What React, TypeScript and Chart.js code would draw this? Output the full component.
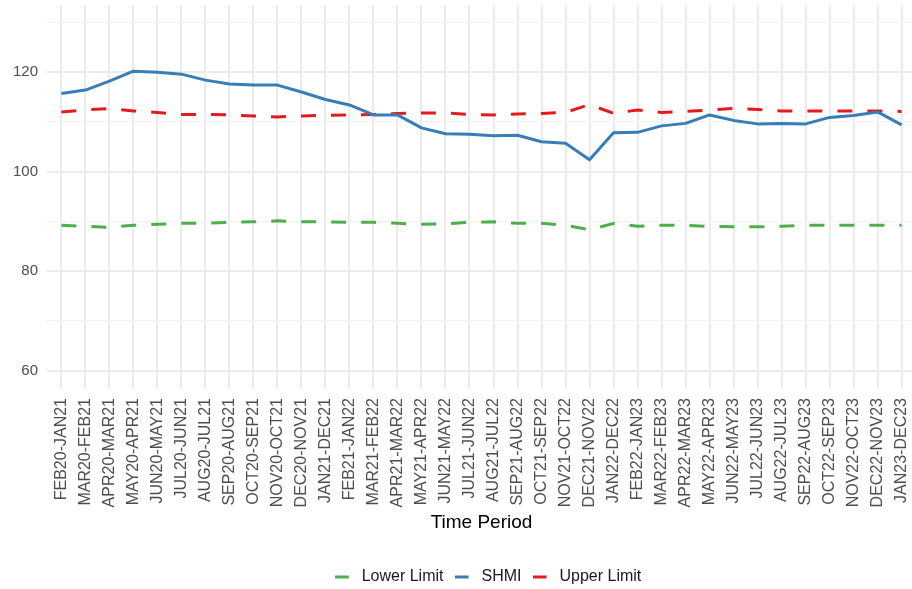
import React, { useEffect, useRef } from "react";
import { Chart, registerables } from "chart.js";

Chart.register(...registerables);

const periods = [
  "FEB20-JAN21", "MAR20-FEB21", "APR20-MAR21", "MAY20-APR21", "JUN20-MAY21", "JUL20-JUN21",
  "AUG20-JUL21", "SEP20-AUG21", "OCT20-SEP21", "NOV20-OCT21", "DEC20-NOV21", "JAN21-DEC21",
  "FEB21-JAN22", "MAR21-FEB22", "APR21-MAR22", "MAY21-APR22", "JUN21-MAY22", "JUL21-JUN22",
  "AUG21-JUL22", "SEP21-AUG22", "OCT21-SEP22", "NOV21-OCT22", "DEC21-NOV22", "JAN22-DEC22",
  "FEB22-JAN23", "MAR22-FEB23", "APR22-MAR23", "MAY22-APR23", "JUN22-MAY23", "JUL22-JUN23",
  "AUG22-JUL23", "SEP22-AUG23", "OCT22-SEP23", "NOV22-OCT23", "DEC22-NOV23", "JAN23-DEC23",
];

const lowerLimit = [
  89.2, 89.0, 88.8, 89.2, 89.4, 89.6, 89.6, 89.8, 89.9, 90.1, 89.9, 89.9,
  89.8, 89.8, 89.6, 89.4, 89.5, 89.8, 89.9, 89.6, 89.6, 89.2, 88.3, 89.6,
  89.0, 89.2, 89.2, 89.0, 88.9, 88.9, 89.0, 89.2, 89.2, 89.2, 89.2, 89.2,
];

const shmi = [
  115.7, 116.4, 118.2, 120.2, 120.0, 119.6, 118.4, 117.6, 117.4, 117.4, 116.0, 114.5,
  113.4, 111.4, 111.4, 108.8, 107.6, 107.5, 107.2, 107.3, 106.0, 105.7, 102.4, 107.8,
  107.9, 109.2, 109.7, 111.4, 110.3, 109.6, 109.7, 109.6, 110.9, 111.3, 112.0, 109.4,
];

const upperLimit = [
  112.0, 112.4, 112.7, 112.2, 111.9, 111.5, 111.5, 111.4, 111.2, 111.0, 111.2, 111.3,
  111.4, 111.5, 111.7, 111.8, 111.8, 111.5, 111.4, 111.6, 111.7, 111.9, 113.5, 111.7,
  112.4, 111.9, 112.1, 112.4, 112.7, 112.5, 112.2, 112.2, 112.2, 112.2, 112.2, 112.1,
];

const yMajorTicks = [60, 80, 100, 120];

const FONT = "'Liberation Sans', Arial, Helvetica, sans-serif";

function makeKey(color: string): HTMLCanvasElement {
  const c = document.createElement("canvas");
  c.width = 19;
  c.height = 4;
  const g = c.getContext("2d");
  if (g) {
    g.fillStyle = color;
    g.fillRect(0, 0.5, 14, 3);
  }
  return c;
}

export default function App() {
  const ref = useRef<HTMLCanvasElement | null>(null);

  useEffect(() => {
    if (!ref.current) return;
    const toPts = (arr: number[]) => arr.map((y, i) => ({ x: i, y }));
    const chart = new Chart(ref.current, {
      type: "line",
      data: {
        datasets: [
          {
            label: "Lower Limit",
            data: toPts(lowerLimit),
            borderColor: "#4DAF4A",
            backgroundColor: "#4DAF4A",
            borderWidth: 3,
            borderDash: [15, 15],
            borderJoinStyle: "round",
            pointRadius: 0,
            tension: 0,
          },
          {
            label: "SHMI",
            data: toPts(shmi),
            borderColor: "#377EB8",
            backgroundColor: "#377EB8",
            borderWidth: 3,
            borderJoinStyle: "round",
            pointRadius: 0,
            tension: 0,
          },
          {
            label: "Upper Limit",
            data: toPts(upperLimit),
            borderColor: "#E41A1C",
            backgroundColor: "#E41A1C",
            borderWidth: 3,
            borderDash: [15, 15],
            borderJoinStyle: "round",
            pointRadius: 0,
            tension: 0,
          },
        ],
      },
      options: {
        animation: false,
        responsive: false,
        maintainAspectRatio: false,
        layout: { padding: { top: 5, left: 0, right: 0, bottom: 0 } },
        plugins: {
          tooltip: { enabled: false },
          legend: {
            position: "bottom",
            labels: {
              font: { family: FONT, size: 16 },
              color: "#1a1a1a",
              usePointStyle: true,
              pointStyleWidth: 19,
              boxHeight: 4,
              padding: 11,
              generateLabels: (c: any) =>
                c.data.datasets.map((ds: any, i: number) => ({
                  text: ds.label,
                  fillStyle: ds.borderColor,
                  strokeStyle: ds.borderColor,
                  lineWidth: 0,
                  lineDash: [],
                  pointStyle: makeKey(ds.borderColor),
                  hidden: false,
                  datasetIndex: i,
                  fontColor: "#1a1a1a",
                })),
            },
          },
        },
        scales: {
          x: {
            type: "linear",
            min: -0.6,
            max: 35.6,
            afterFit: (s: any) => {
              s.height = 170;
              s.paddingLeft = 0;
              s.paddingRight = 60;
            },
            grid: {
              color: "#ebebeb",
              lineWidth: 2,
              drawTicks: false,
            },
            border: { display: false },
            ticks: {
              stepSize: 1,
              includeBounds: false,
              autoSkip: false,
              maxTicksLimit: 100,
              minRotation: 90,
              maxRotation: 90,
              padding: 10,
              color: "#4d4d4d",
              font: { family: FONT, size: 16 },
              callback: (v: any) => (Number.isInteger(v) && periods[v] ? periods[v] : ""),
            },
            title: {
              display: true,
              text: "Time Period",
              color: "#000000",
              font: { family: FONT, size: 19 },
              padding: { top: 0, bottom: 24 },
            },
          },
          y: {
            type: "linear",
            min: 56.5,
            max: 133.5,
            afterFit: (s: any) => {
              s.width = 47;
              s.paddingTop = 0;
              s.paddingBottom = 0;
            },
            grid: {
              color: (ctx: any) => (yMajorTicks.includes(ctx.tick?.value) ? "#ebebeb" : "#f3f3f3"),
              lineWidth: (ctx: any) => (yMajorTicks.includes(ctx.tick?.value) ? 2 : 1.3),
              drawTicks: false,
            },
            border: { display: false },
            ticks: {
              stepSize: 10,
              includeBounds: false,
              padding: 9,
              color: "#4d4d4d",
              font: { family: FONT, size: 15 },
              callback: (v: any) => (yMajorTicks.includes(v) ? String(v) : ""),
            },
          },
        },
      },
    });
    return () => chart.destroy();
  }, []);

  return (
    <div
      style={{
        position: "fixed",
        left: 0,
        top: 0,
        width: 912,
        height: 589,
        overflow: "hidden",
        background: "#ffffff",
      }}
    >
      <canvas ref={ref} width={976} height={595} style={{ display: "block", width: 976, height: 595 }} />
    </div>
  );
}
